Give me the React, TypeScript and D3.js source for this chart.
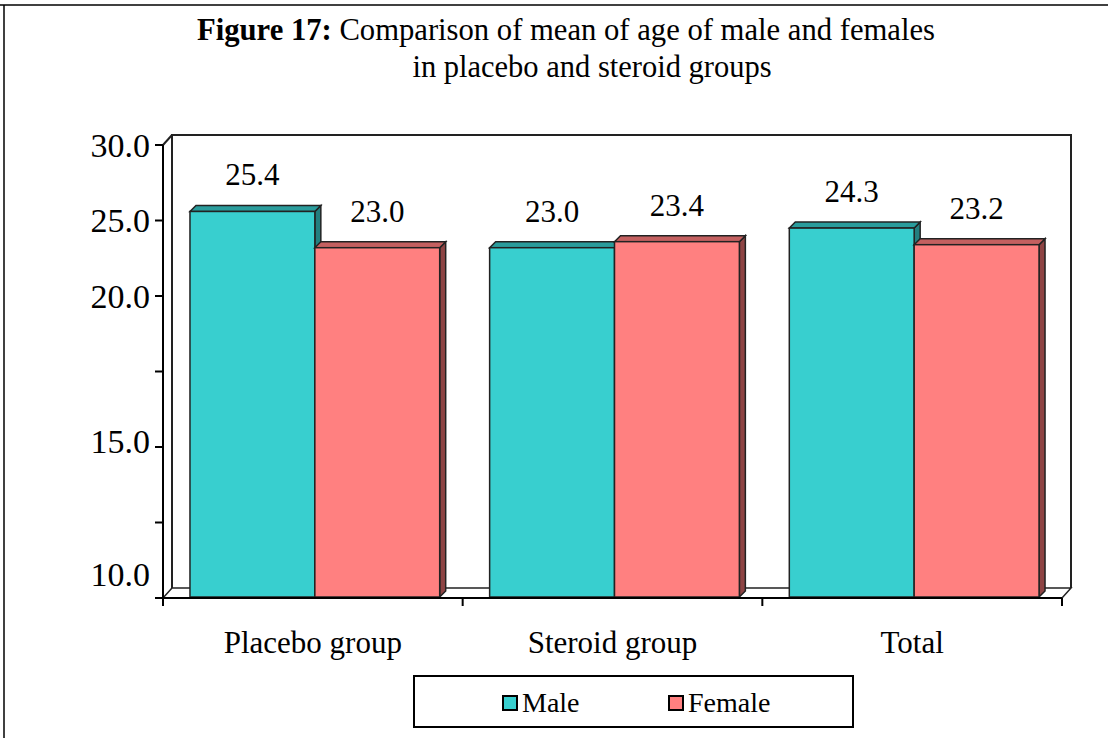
import { useEffect, useRef } from "react"
import * as d3 from "d3"

const categories = ["Placebo group", "Steroid group", "Total"]
const seriesNames = ["Male", "Female"]
const maleValues = [25.4, 23.0, 24.3]
const femaleValues = [23.0, 23.4, 23.2]
const tickValues = [10, 12.5, 15, 17.5, 20, 25, 30]
const tickLabels = ["10.0", "", "15.0", "", "20.0", "25.0", "30.0"]

const colors = {
  Male: { front: "#38cfcf", top: "#2a9c9c", side: "#237f7f" },
  Female: { front: "#ff8080", top: "#c46060", side: "#8e4444" },
}

export default function App() {
  const svgRef = useRef<SVGSVGElement | null>(null)

  useEffect(() => {
    if (!svgRef.current) return
    const svg = d3.select(svgRef.current)
    svg.selectAll("*").remove()

    const width = 1108
    const height = 738
    const font = "'Liberation Serif', 'Times New Roman', serif"
    const depth = { x: 9, y: -10 }
    const barDepth = { x: 6, y: -6 }

    svg.attr("width", width).attr("height", height).style("display", "block")

    // outer frame
    svg.append("line").attr("x1", 0).attr("x2", width).attr("y1", 5).attr("y2", 5).attr("stroke", "#000").attr("stroke-width", 1.5)
    svg.append("line").attr("x1", 4).attr("x2", 4).attr("y1", 5).attr("y2", height).attr("stroke", "#000").attr("stroke-width", 1.5)

    // title
    const title = svg.append("text").attr("x", 197).attr("y", 40).attr("font-family", font).attr("font-size", 30.5).attr("fill", "#000")
      .attr("textLength", 738).attr("lengthAdjust", "spacingAndGlyphs")
    title.append("tspan").attr("font-weight", "bold").text("Figure 17:")
    title.append("tspan").text(" Comparison of mean of age of male and females")
    svg.append("text").attr("x", 592).attr("y", 77).attr("text-anchor", "middle")
      .attr("font-family", font).attr("font-size", 30.5).text("in placebo and steroid groups")

    const x0 = 163
    const x1 = 1062
    const yBase = 598

    const y = d3.scaleLinear().domain([10, 15, 20, 30]).range([598, 447, 296, 145])

    const xScale = d3.scaleBand<string>().domain(categories).range([x0, x1])
    const xInner = d3.scaleBand<string>().domain(seriesNames).range([0, xScale.bandwidth()]).paddingOuter(0.2)

    // walls
    const wallG = svg.append("g")
    wallG.append("path")
      .attr("d", `M${x0},${y(30)} L${x0 + depth.x},${y(30) + depth.y} L${x1 + depth.x},${y(30) + depth.y} L${x1 + depth.x},${yBase + depth.y} L${x0 + depth.x},${yBase + depth.y} L${x0},${yBase} Z`)
      .attr("fill", "#fff")
    wallG.append("path")
      .attr("d", `M${x0 + depth.x},${yBase + depth.y} L${x0 + depth.x},${y(30) + depth.y} L${x1 + depth.x},${y(30) + depth.y} L${x1 + depth.x},${yBase + depth.y}`)
      .attr("fill", "none").attr("stroke", "#222").attr("stroke-width", 2)
    wallG.append("line")
      .attr("x1", x0).attr("y1", y(30)).attr("x2", x0 + depth.x).attr("y2", y(30) + depth.y)
      .attr("stroke", "#222").attr("stroke-width", 2)
    // floor
    wallG.append("path")
      .attr("d", `M${x0},${yBase} L${x0 + depth.x},${yBase + depth.y} L${x1 + depth.x},${yBase + depth.y} L${x1},${yBase} Z`)
      .attr("fill", "#fff").attr("stroke", "#222").attr("stroke-width", 1.5)

    // bars
    const data = categories.flatMap((c, i) => [
      { cat: c, series: "Male", value: maleValues[i] },
      { cat: c, series: "Female", value: femaleValues[i] },
    ])

    const barG = svg.append("g")
    data.forEach((d) => {
      const bx = (xScale(d.cat) ?? 0) + (xInner(d.series) ?? 0) + 2
      const bw = xInner.bandwidth()
      const top = y(d.value) - 3
      const bottom = yBase - 1
      const col = colors[d.series as keyof typeof colors]
      const g = barG.append("g")
      g.append("path")
        .attr("d", `M${bx + bw},${top} L${bx + bw + barDepth.x},${top + barDepth.y} L${bx + bw + barDepth.x},${bottom + barDepth.y} L${bx + bw},${bottom} Z`)
        .attr("fill", col.side).attr("stroke", "#222").attr("stroke-width", 1.5)
      g.append("path")
        .attr("d", `M${bx},${top} L${bx + barDepth.x},${top + barDepth.y} L${bx + bw + barDepth.x},${top + barDepth.y} L${bx + bw},${top} Z`)
        .attr("fill", col.top).attr("stroke", "#222").attr("stroke-width", 1.5)
      g.append("rect")
        .attr("x", bx).attr("y", top).attr("width", bw).attr("height", bottom - top)
        .attr("fill", col.front).attr("stroke", "#222").attr("stroke-width", 1.5)
      g.append("text")
        .attr("x", bx + bw / 2).attr("y", top - 26)
        .attr("text-anchor", "middle").attr("font-family", font).attr("font-size", 31)
        .text(d.value.toFixed(1))
    })

    // y axis (the two lower labels sit a bit above their ticks, as in the source)
    const labelShift = (label: string) => (label === "10.0" ? -24 : label === "15.0" ? -6 : 0)
    const yAxis = svg.append("g")
    yAxis.append("line").attr("x1", x0).attr("x2", x0).attr("y1", y(30)).attr("y2", yBase).attr("stroke", "#000").attr("stroke-width", 2)
    tickValues.forEach((v, i) => {
      yAxis.append("line").attr("x1", x0 - 8).attr("x2", x0).attr("y1", y(v)).attr("y2", y(v)).attr("stroke", "#000").attr("stroke-width", 2)
      if (tickLabels[i]) {
        yAxis.append("text").attr("x", x0 - 13).attr("y", y(v) + labelShift(tickLabels[i])).attr("dy", "0.35em")
          .attr("text-anchor", "end").attr("font-family", font).attr("font-size", 34).text(tickLabels[i])
      }
    })

    // x axis
    const xAxis = svg.append("g")
    xAxis.append("line").attr("x1", x0 - 8).attr("x2", x1).attr("y1", yBase).attr("y2", yBase).attr("stroke", "#000").attr("stroke-width", 2)
    const xTicks = [...categories.map((c) => xScale(c) ?? 0), x1]
    xTicks.forEach((t) => {
      xAxis.append("line").attr("x1", t).attr("x2", t).attr("y1", yBase).attr("y2", yBase + 8).attr("stroke", "#000").attr("stroke-width", 2)
    })
    categories.forEach((c) => {
      xAxis.append("text").attr("x", (xScale(c) ?? 0) + xScale.bandwidth() / 2).attr("y", 653)
        .attr("text-anchor", "middle").attr("font-family", font).attr("font-size", 31).text(c)
    })

    // legend
    const legend = svg.append("g")
    legend.append("rect").attr("x", 414).attr("y", 676).attr("width", 439).attr("height", 51)
      .attr("fill", "#fff").attr("stroke", "#000").attr("stroke-width", 2)
    const legendX = [503, 669]
    seriesNames.forEach((s, i) => {
      const col = colors[s as keyof typeof colors]
      legend.append("rect").attr("x", legendX[i]).attr("y", 696).attr("width", 14).attr("height", 14)
        .attr("fill", col.front).attr("stroke", "#000").attr("stroke-width", 2)
      legend.append("text").attr("x", legendX[i] + 19).attr("y", 712)
        .attr("font-family", font).attr("font-size", 28).text(s)
    })
  }, [])

  return <svg ref={svgRef} style={{ position: "absolute", left: 0, top: 0 }} />
}
